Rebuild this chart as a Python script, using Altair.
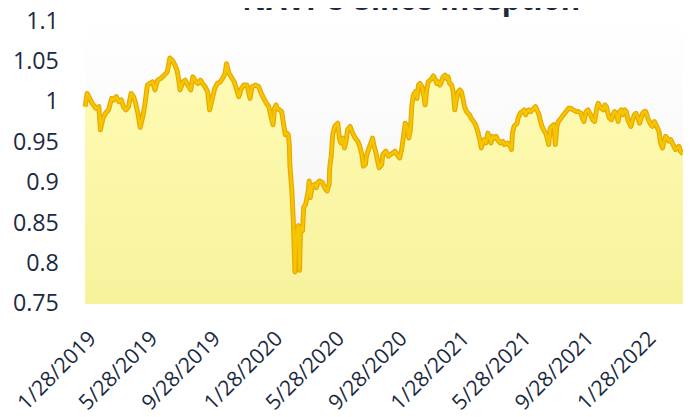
import altair as alt
import pandas as pd

title_text = "NAVPU Since Inception"
inception = "2019-01-28"
domain_end = "2022-04-13"

# days since inception (1/28/2019) and NAVPU
day_offsets = [
    0, 4, 14, 21, 27, 30, 35, 40, 46, 52, 56, 61, 66, 71, 75, 80, 85, 90, 95, 99,
    104, 108, 113, 117, 122, 127, 132, 137, 142, 148, 155, 161, 166, 171, 176, 180, 183, 186, 192, 196,
    201, 207, 211, 215, 221, 226, 230, 235, 240, 244, 250, 254, 259, 265, 269, 274, 277, 282, 286, 292,
    297, 301, 306, 311, 317, 323, 327, 334, 340, 345, 350, 355, 360, 364, 368, 371, 374, 376, 381, 385,
    389, 392, 395, 398, 400, 401, 405, 408, 411, 414, 418, 420, 422, 426, 428, 432, 437, 439, 441, 445,
    450, 453, 456, 459, 465, 469, 474, 478, 479, 482, 485, 489, 492, 495, 498, 501, 505, 508, 511, 514,
    519, 524, 529, 534, 538, 542, 545, 549, 551, 555, 560, 563, 566, 569, 573, 576, 581, 583, 589, 594,
    598, 603, 607, 611, 616, 620, 624, 627, 631, 634, 637, 640, 643, 647, 650, 653, 656, 660, 663, 666,
    669, 672, 676, 679, 682, 685, 689, 692, 695, 698, 701, 705, 708, 711, 714, 718, 721, 724, 727, 731,
    734, 737, 740, 743, 747, 750, 753, 756, 763, 766, 769, 773, 776, 779, 782, 785, 789, 792, 795, 798,
    802, 805, 808, 813, 818, 821, 827, 833, 835, 837, 840, 846, 848, 852, 856, 860, 863, 866, 869, 873,
    876, 879, 882, 885, 889, 892, 895, 898, 902, 905, 908, 911, 914, 918, 921, 924, 927, 932, 937, 942,
    947, 951, 956, 962, 966, 971, 974, 977, 981, 985, 990, 994, 998, 1002, 1005, 1008, 1011, 1015, 1018, 1021,
    1024, 1027, 1031, 1034, 1037, 1040, 1044, 1047, 1050, 1053, 1057, 1060, 1063, 1066, 1069, 1073, 1076, 1079, 1082, 1086,
    1089, 1092, 1095, 1098, 1102, 1105, 1108, 1111, 1115, 1118, 1121, 1124, 1127, 1131, 1134, 1137, 1140, 1144, 1147, 1150,
    1153, 1156, 1160, 1163, 1166, 1169, 1171,
]
navpu = [
    0.9943, 1.0107, 0.9984, 0.9923, 0.9943, 0.9657, 0.9800, 0.9861, 0.9903, 1.0045, 1.0026, 1.0066, 1.0005, 1.0026, 0.9943, 0.9903, 0.9943, 1.0107, 1.0066, 0.9984,
    0.9842, 0.9686, 0.9821, 0.9964, 1.0210, 1.0230, 1.0251, 1.0149, 1.0271, 1.0291, 1.0333, 1.0373, 1.0545, 1.0517, 1.0456, 1.0394, 1.0291, 1.0149, 1.0251, 1.0271,
    1.0210, 1.0149, 1.0312, 1.0271, 1.0230, 1.0271, 1.0230, 1.0189, 1.0128, 0.9903, 1.0066, 1.0168, 1.0230, 1.0251, 1.0291, 1.0353, 1.0475, 1.0353, 1.0312, 1.0251,
    1.0149, 1.0066, 1.0168, 1.0210, 1.0210, 1.0045, 1.0189, 1.0210, 1.0189, 1.0107, 1.0045, 0.9984, 0.9943, 0.9821, 0.9719, 0.9923, 0.9964, 0.9920, 0.9903, 0.9882,
    0.9719, 0.9596, 0.9615, 0.9596, 0.9473, 0.9227, 0.8899, 0.8490, 0.7896, 0.8408, 0.8469, 0.7916, 0.8448, 0.8408, 0.8694, 0.8736, 0.8899, 0.9022, 0.8817, 0.8961,
    0.8982, 0.8940, 0.9001, 0.9022, 0.9001, 0.8940, 0.8899, 0.8982, 0.9185, 0.9329, 0.9596, 0.9698, 0.9719, 0.9738, 0.9554, 0.9493, 0.9554, 0.9431, 0.9514, 0.9657,
    0.9698, 0.9615, 0.9554, 0.9514, 0.9452, 0.9350, 0.9206, 0.9227, 0.9329, 0.9412, 0.9493, 0.9554, 0.9452, 0.9391, 0.9268, 0.9185, 0.9227, 0.9350, 0.9391, 0.9329,
    0.9350, 0.9370, 0.9391, 0.9350, 0.9308, 0.9412, 0.9596, 0.9738, 0.9677, 0.9554, 0.9657, 0.9964, 1.0087, 1.0128, 1.0045, 1.0210, 1.0230, 1.0189, 1.0087, 0.9964,
    1.0149, 1.0251, 1.0271, 1.0291, 1.0324, 1.0291, 1.0230, 1.0251, 1.0210, 1.0251, 1.0312, 1.0333, 1.0291, 1.0312, 1.0230, 1.0210, 1.0128, 0.9903, 1.0026, 1.0128,
    1.0149, 1.0128, 1.0045, 0.9943, 0.9882, 0.9861, 0.9842, 0.9800, 0.9738, 0.9698, 0.9636, 0.9534, 0.9431, 0.9514, 0.9534, 0.9493, 0.9615, 0.9554, 0.9493, 0.9575,
    0.9554, 0.9575, 0.9534, 0.9493, 0.9514, 0.9473, 0.9493, 0.9452, 0.9412, 0.9615, 0.9698, 0.9738, 0.9800, 0.9861, 0.9882, 0.9903, 0.9842, 0.9882, 0.9903, 0.9882,
    0.9903, 0.9923, 0.9943, 0.9903, 0.9842, 0.9759, 0.9698, 0.9657, 0.9615, 0.9554, 0.9473, 0.9677, 0.9698, 0.9719, 0.9473, 0.9698, 0.9759, 0.9800, 0.9842, 0.9882,
    0.9923, 0.9923, 0.9903, 0.9882, 0.9882, 0.9861, 0.9800, 0.9759, 0.9882, 0.9903, 0.9842, 0.9780, 0.9759, 0.9923, 0.9984, 0.9943, 0.9923, 0.9903, 0.9964, 0.9943,
    0.9861, 0.9800, 0.9780, 0.9842, 0.9882, 0.9861, 0.9759, 0.9882, 0.9903, 0.9842, 0.9903, 0.9882, 0.9780, 0.9738, 0.9698, 0.9800, 0.9842, 0.9861, 0.9821, 0.9738,
    0.9800, 0.9861, 0.9882, 0.9882, 0.9800, 0.9759, 0.9719, 0.9698, 0.9759, 0.9719, 0.9677, 0.9636, 0.9493, 0.9431, 0.9514, 0.9575, 0.9554, 0.9514, 0.9534, 0.9493,
    0.9452, 0.9412, 0.9431, 0.9452, 0.9391, 0.9370, 0.9360,
]

tick_dates = [
    (2019, 1, 28), (2019, 5, 28), (2019, 9, 28), (2020, 1, 28), (2020, 5, 28),
    (2020, 9, 28), (2021, 1, 28), (2021, 5, 28), (2021, 9, 28), (2022, 1, 28),
]
y_ticks = [0.75, 0.8, 0.85, 0.9, 0.95, 1.0, 1.05, 1.1]
y_min, y_max = 0.75, 1.1

dates = pd.Timestamp(inception) + pd.to_timedelta(day_offsets, unit="D")
df = pd.DataFrame({"date": dates.strftime("%Y-%m-%dT%H:%M:%S"), "navpu": navpu})

start_dt = alt.DateTime(year=2019, month=1, date=28)
y_, m_, d_ = [int(p) for p in domain_end.split("-")]
end_dt = alt.DateTime(year=y_, month=m_, date=d_)

x_enc = alt.X(
    "date:T",
    scale=alt.Scale(domain=[start_dt, end_dt], nice=False),
    axis=alt.Axis(
        values=[alt.DateTime(year=a, month=b, date=c) for a, b, c in tick_dates],
        format="%-m/%-d/%Y",
        labelAngle=315,
        labelAlign="right",
        labelBaseline="top",
        labelPadding=24,
        labelOffset=0,
        labelFontSize=21.5,
        labelOverlap=False,
        labelBound=False,
        labelFlush=False,
        title=None,
    ),
)
y_enc = alt.Y(
    "navpu:Q",
    scale=alt.Scale(domain=[y_min, y_max], nice=False, zero=False),
    axis=alt.Axis(values=y_ticks, format="~g", labelPadding=27, labelFontSize=23.5,
                  labelOverlap=False, labelBound=False, labelFlush=False, title=None),
)

base = alt.Chart(df)

bg = alt.Chart(pd.DataFrame({"k": [0]})).mark_rect(
    color=alt.Gradient(
        gradient="linear",
        stops=[alt.GradientStop(color="#FFFFFF", offset=0), alt.GradientStop(color="#F2F2F2", offset=1)],
        x1=1, x2=1, y1=0, y2=1,
    )
).encode(x=alt.value(0), x2=alt.value(605), y=alt.value(0), y2=alt.value(286))

area = base.mark_area(
    line=False,
    color=alt.Gradient(
        gradient="linear",
        stops=[
            alt.GradientStop(color="#FFFBB4", offset=0),
            alt.GradientStop(color="#F7F29C", offset=1),
        ],
        x1=1, x2=1, y1=0, y2=1,
    ),
).encode(x=x_enc, y=y_enc, y2=alt.datum(y_min))

line_outer = base.mark_line(color="#E9A800", strokeWidth=5, strokeJoin="round").encode(x="date:T", y="navpu:Q")
line_inner = base.mark_line(color="#F4C600", strokeWidth=2.6, strokeJoin="round").encode(x="date:T", y="navpu:Q")

title_df = pd.DataFrame({"t": [title_text]})
title_mark = alt.Chart(title_df).mark_text(
    font="Open Sans", fontSize=30, fontWeight="bold", color="#1B2A3F",
    align="center", baseline="alphabetic",
).encode(text="t:N", x=alt.value(330), y=alt.value(-11))

chart = (
    alt.layer(bg, area, line_outer, line_inner, title_mark)
    .properties(
        width=605,
        height=286,
        autosize=alt.AutoSizeParams(type="none"),
        padding={"left": 78, "top": 11, "right": 0, "bottom": 112},
    )
    .configure_view(stroke=None)
    .configure_axis(
        domain=False, ticks=False, tickSize=0, grid=False,
        labelFont="Open Sans", labelColor="#1B2A3F",
    )
)

chart.save("out.html", embed_options={"renderer": "svg", "actions": False})
